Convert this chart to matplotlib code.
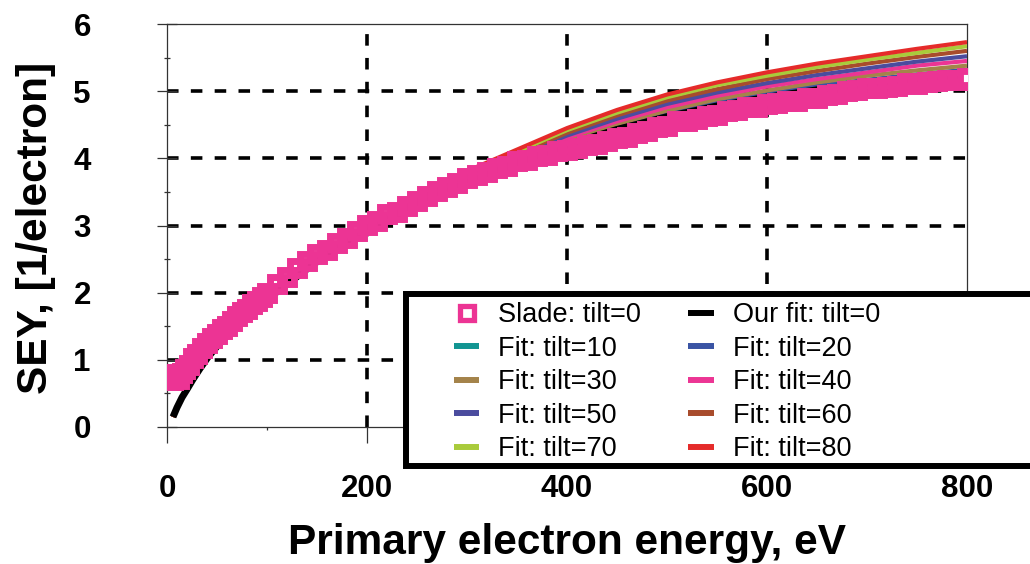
import matplotlib
matplotlib.use("Agg")
import matplotlib.pyplot as plt
from matplotlib.lines import Line2D
from matplotlib.patches import Rectangle
from matplotlib import font_manager

# ---------------- data ----------------
SLADE_X = [3, 6, 9, 12, 15, 18, 22, 26, 30, 35, 40, 45, 50, 55, 60, 65, 70, 75, 80, 85, 90, 95, 100,
           110, 120, 130, 140, 150, 160, 170, 180, 190, 200, 210, 220, 230, 240, 250, 260, 270, 280,
           290, 300, 310, 320, 330, 340, 350, 360, 370, 380, 390, 400, 410, 420, 430, 440, 450, 460,
           470, 480, 490, 500, 510, 520, 530, 540, 550, 560, 570, 580, 590, 600, 610, 620, 630, 640,
           650, 660, 670, 680, 690, 700, 710, 720, 730, 740, 750, 760, 770, 780, 790, 800]
SLADE_Y = [0.76, 0.70, 0.79, 0.72, 0.80, 0.86, 0.93, 1.02, 1.08, 1.17, 1.25, 1.32, 1.38, 1.46, 1.51,
           1.58, 1.65, 1.71, 1.75, 1.83, 1.88, 1.94, 1.99,
           2.13, 2.24, 2.37, 2.47, 2.58, 2.64, 2.74, 2.81, 2.92, 3.01, 3.07, 3.17, 3.20, 3.29, 3.37,
           3.44, 3.51, 3.58, 3.63, 3.71, 3.75, 3.79, 3.86, 3.88, 3.96, 3.98, 4.03, 4.05, 4.11, 4.12,
           4.16, 4.20, 4.21, 4.26, 4.30, 4.32, 4.37, 4.40, 4.46, 4.48, 4.55, 4.55, 4.59, 4.63, 4.65,
           4.71, 4.72, 4.77, 4.77, 4.81, 4.82, 4.85, 4.86, 4.90, 4.90, 4.95, 4.96, 5.00, 5.01, 5.05,
           5.05, 5.06, 5.08, 5.12, 5.11, 5.14, 5.15, 5.17, 5.17, 5.20]

# fit curves: common low-energy part (all tilts coincide there) + tails
FIT_X_LOW = [6, 10, 15, 20, 26, 33, 41, 50, 60, 71, 88, 108, 125, 146, 175, 200]
FIT_Y_LOW = [0.15, 0.29, 0.44, 0.56, 0.71, 0.87, 1.04, 1.20, 1.36, 1.52, 1.74, 1.99, 2.18, 2.42,
             2.70, 2.91]
FIT_X_HIGH = [225, 250, 300, 350, 400, 450, 500, 550, 600, 650, 700, 750, 800]
FIT_TILT0 = [3.12, 3.31, 3.63, 3.93, 4.20, 4.43, 4.62, 4.78, 4.91, 5.02, 5.11, 5.19, 5.25]
FIT_TILT10 = [3.12, 3.31, 3.64, 3.94, 4.22, 4.45, 4.64, 4.80, 4.93, 5.04, 5.13, 5.22, 5.28]
FIT_TILT20 = [3.12, 3.32, 3.65, 3.96, 4.24, 4.47, 4.67, 4.83, 4.96, 5.08, 5.17, 5.25, 5.32]
FIT_TILT30 = [3.13, 3.33, 3.68, 3.99, 4.27, 4.51, 4.71, 4.88, 5.01, 5.13, 5.23, 5.31, 5.38]
FIT_TILT40 = [3.13, 3.34, 3.71, 4.01, 4.31, 4.55, 4.76, 4.93, 5.07, 5.18, 5.28, 5.38, 5.45]
FIT_TILT50 = [3.14, 3.35, 3.73, 4.04, 4.34, 4.59, 4.81, 4.98, 5.12, 5.24, 5.34, 5.44, 5.52]
FIT_TILT60 = [3.14, 3.36, 3.76, 4.07, 4.38, 4.64, 4.86, 5.03, 5.18, 5.30, 5.41, 5.51, 5.60]
FIT_TILT70 = [3.15, 3.37, 3.79, 4.10, 4.42, 4.68, 4.91, 5.09, 5.23, 5.36, 5.47, 5.57, 5.67]
FIT_TILT80 = [3.15, 3.38, 3.81, 4.13, 4.45, 4.72, 4.95, 5.13, 5.28, 5.41, 5.52, 5.63, 5.73]

TILT_LABELS = ["Fit: tilt=10", "Fit: tilt=20", "Fit: tilt=30", "Fit: tilt=40",
               "Fit: tilt=50", "Fit: tilt=60", "Fit: tilt=70", "Fit: tilt=80"]
TILT_COLORS = ["#129592", "#3A54A4", "#A4834A", "#EC3594", "#4B4C9E", "#A84C2C",
               "#A9CB3B", "#E52B2A"]
TILT_SERIES = [FIT_TILT10, FIT_TILT20, FIT_TILT30, FIT_TILT40, FIT_TILT50, FIT_TILT60,
               FIT_TILT70, FIT_TILT80]

X_TICKS = [0, 200, 400, 600, 800]
Y_TICKS = [0, 1, 2, 3, 4, 5, 6]
PINK = "#EC3494"

# ---------------- fonts ----------------
avail = {f.name for f in font_manager.fontManager.ttflist}
MAIN_FONT = "Liberation Sans" if "Liberation Sans" in avail else "DejaVu Sans"
plt.rcParams["font.family"] = [MAIN_FONT, "DejaVu Sans"]

# ---------------- figure ----------------
fig = plt.figure(figsize=(10.30, 5.64), dpi=100)
ax = fig.add_axes([167 / 1030, 1 - 427 / 564, 800 / 1030, (427 - 24) / 564])

fx = FIT_X_LOW + FIT_X_HIGH
for ys, c in zip(TILT_SERIES, TILT_COLORS):
    ax.plot(fx, FIT_Y_LOW + ys, color=c, lw=3.0, solid_capstyle="butt", zorder=3)
ax.plot(fx, FIT_Y_LOW + FIT_TILT0, color="black", lw=5.0, solid_capstyle="butt", zorder=3.5)
ax.plot(SLADE_X, SLADE_Y, ls="none", marker="s", ms=9.5, mew=5.0, mec=PINK, mfc="none", zorder=4)
# last point drawn again with white centre, as in the original
ax.plot(SLADE_X[-1:], SLADE_Y[-1:], ls="none", marker="s", ms=8, mew=3.5, mec=PINK,
        mfc="white", zorder=4.1)

ax.set_xlim(0, 800)
ax.set_ylim(0, 6)
ax.set_xticks(X_TICKS)
ax.set_yticks(Y_TICKS)
ax.set_xticks([100, 300, 500, 700], minor=True)
ax.set_yticks([0.5, 1.5, 2.5, 3.5, 4.5, 5.5], minor=True)

ax.grid(True, which="major", color="black", lw=2.6, ls=(0, (3.2, 3.4)), zorder=1)
for gl in (ax.get_xgridlines()[0], ax.get_xgridlines()[-1],
           ax.get_ygridlines()[0], ax.get_ygridlines()[-1]):
    gl.set_visible(False)
ax.set_axisbelow(True)

for s in ax.spines.values():
    s.set_linewidth(0.9)
    s.set_color("#333333")

ax.tick_params(axis="y", which="major", direction="inout", length=13.7, width=0.9,
               pad=48, labelsize=22.5, color="#333333")
ax.tick_params(axis="y", which="minor", direction="inout", length=5, width=0.9, color="#333333")
ax.tick_params(axis="x", which="major", direction="out", length=11.5, width=0.9,
               pad=22, labelsize=22.5, color="#333333")
ax.tick_params(axis="x", which="minor", direction="out", length=2, width=0.9, color="#333333")
for lab in ax.get_xticklabels() + ax.get_yticklabels():
    lab.set_fontweight("bold")

ax.set_xlabel("Primary electron energy, eV", fontsize=30.5, fontweight="bold", labelpad=14)
ax.set_ylabel("SEY, [1/electron]", fontsize=30.5, fontweight="bold")
ax.yaxis.set_label_coords(56 / 1030, 1 - 228 / 564, transform=fig.transFigure)

# legend box (white, thick frame, runs past the right edge)
rect = Rectangle((406 / 1030, 1 - 466 / 564), (1045 - 406) / 1030, (466 - 294) / 564,
                 transform=fig.transFigure, facecolor="white", edgecolor="black",
                 lw=4.3, zorder=4)
fig.add_artist(rect)

h_slade = Line2D([], [], ls="none", marker="s", ms=9.5, mew=3.8, mec=PINK, mfc="white")
h_black = Line2D([], [], color="black", lw=4.3, solid_capstyle="butt")
h_tilts = [Line2D([], [], color=c, lw=4.3, solid_capstyle="butt") for c in TILT_COLORS]
handles = [h_slade, h_tilts[0], h_tilts[2], h_tilts[4], h_tilts[6],
           h_black, h_tilts[1], h_tilts[3], h_tilts[5], h_tilts[7]]
labels = ["Slade: tilt=0", TILT_LABELS[0], TILT_LABELS[2], TILT_LABELS[4], TILT_LABELS[6],
          "Our fit: tilt=0", TILT_LABELS[1], TILT_LABELS[3], TILT_LABELS[5], TILT_LABELS[7]]
leg = fig.legend(handles, labels, loc="upper left", bbox_to_anchor=(454 / 1030, 1 - 302 / 564),
                 bbox_transform=fig.transFigure, ncol=2, frameon=False, borderpad=0,
                 borderaxespad=0, handlelength=0.93, handletextpad=0.7, columnspacing=1.75,
                 labelspacing=0.28, prop={"family": MAIN_FONT, "size": 19.5})
leg.set_zorder(5)

fig.savefig("out.png", dpi=100)
